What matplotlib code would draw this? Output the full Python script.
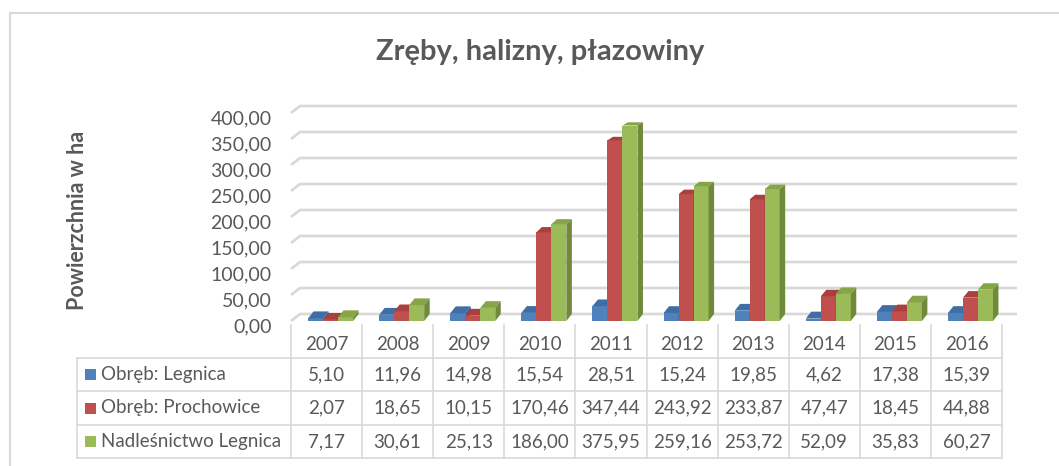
import matplotlib

matplotlib.use("Agg")

import matplotlib.pyplot as plt
from matplotlib.lines import Line2D
from matplotlib.patches import Polygon, Rectangle
from matplotlib.transforms import ScaledTranslation, blended_transform_factory

# --- data ---
YEARS = ["2007", "2008", "2009", "2010", "2011", "2012", "2013", "2014", "2015", "2016"]
SERIES_NAMES = ["Obręb: Legnica", "Obręb: Prochowice", "Nadleśnictwo Legnica"]
LEGNICA = [5.10, 11.96, 14.98, 15.54, 28.51, 15.24, 19.85, 4.62, 17.38, 15.39]
PROCHOWICE = [2.07, 18.65, 10.15, 170.46, 347.44, 243.92, 233.87, 47.47, 18.45, 44.88]
NADLESNICTWO = [7.17, 30.61, 25.13, 186.00, 375.95, 259.16, 253.72, 52.09, 35.83, 60.27]
Y_TICKS = [0, 50, 100, 150, 200, 250, 300, 350, 400]

SERIES = [LEGNICA, PROCHOWICE, NADLESNICTWO]

# front / top / side shades of each series
FRONT = ["#4f81bd", "#c0504d", "#9bbb59"]
TOP = ["#3f6ea6", "#a8403d", "#86a548"]
SIDE = ["#385d8a", "#8c3836", "#6f8a3b"]

TEXT = "#595959"
GRID = "#d9d9d9"

plt.rcParams["font.family"] = ["Lato", "DejaVu Sans"]

W, H = 1059, 466
fig = plt.figure(figsize=(W / 100, H / 100), dpi=100)


def fx(px):
    return px / W


def fy(py):
    return 1 - py / H


# plot area (pixels) and category grid
AX_L, AX_R, AX_T, AX_B = 280, 1025, 95, 330
COL_L, COL_W = 291, 71.1
BASE_PY, PX_PER_UNIT = 321, 0.52

ax = fig.add_axes([fx(AX_L), fy(AX_B), (AX_R - AX_L) / W, (AX_B - AX_T) / H])
ax.set_xlim(-0.5 + (AX_L - COL_L) / COL_W, -0.5 + (AX_R - COL_L) / COL_W)
ax.set_ylim((BASE_PY - AX_B) / PX_PER_UNIT, (BASE_PY - AX_T) / PX_PER_UNIT)
ax.patch.set_alpha(0)
for s in ax.spines.values():
    s.set_visible(False)

ux = 1 / COL_W        # one pixel in x data units
uy = 1 / PX_PER_UNIT  # one pixel in y data units

# back wall gridlines with the short slanted piece on the side wall
wall_end = -0.5 + (1017 - COL_L) / COL_W
for v in Y_TICKS:
    ax.plot([-0.5, -0.5 + 9 * ux, wall_end], [v, v + 7 * uy, v + 7 * uy],
            color=GRID, lw=2, zorder=1, solid_capstyle="butt")

# 3D-looking columns: front from ax.bar, then top and right side faces
OFFSETS = [-0.26, -0.049, 0.162]
BAR_W = 0.211
xs = list(range(len(YEARS)))
for k, values in enumerate(SERIES):
    lefts = [x + OFFSETS[k] for x in xs]
    ax.bar(lefts, values, width=BAR_W, align="edge", color=FRONT[k],
           linewidth=0, zorder=3 + k)
    for x0, h in zip(lefts, values):
        dx = 5.5 * ux
        dy = (7 - 4 * h / 400) * uy
        x1 = x0 + BAR_W
        ax.add_patch(Polygon([(x0, h), (x1, h), (x1 + dx, h + dy), (x0 + dx, h + dy)],
                             closed=True, facecolor=TOP[k], linewidth=0, zorder=3 + k))
        ax.add_patch(Polygon([(x1, 0), (x1 + dx, 7 * uy), (x1 + dx, h + dy), (x1, h)],
                             closed=True, facecolor=SIDE[k], linewidth=0, zorder=3 + k))

ax.set_xticks([])
ax.set_yticks(Y_TICKS)
ax.set_yticklabels([f"{v:.2f}".replace(".", ",") for v in Y_TICKS])
ax.tick_params(axis="y", length=0, pad=6, labelsize=14, labelcolor=TEXT)
shift = ScaledTranslation(0, -4 / 100, fig.dpi_scale_trans)
for lbl in ax.get_yticklabels():
    lbl.set_transform(lbl.get_transform() + shift)

# --- data table under the plot ---
TBL_L = 77
TBL_R = COL_L + len(YEARS) * COL_W
ROW_Y = [325, 358, 391, 425, 458]
line_kw = dict(color=GRID, lw=1.2)

for py in ROW_Y[1:]:
    fig.add_artist(Line2D([fx(TBL_L), fx(TBL_R)], [fy(py), fy(py)], **line_kw))
fig.add_artist(Line2D([fx(TBL_L), fx(TBL_L)], [fy(ROW_Y[1]), fy(ROW_Y[-1])], **line_kw))
for i in range(len(YEARS) + 1):
    px = COL_L + i * COL_W
    fig.add_artist(Line2D([fx(px), fx(px)], [fy(ROW_Y[0]), fy(ROW_Y[-1])], **line_kw))

cell = blended_transform_factory(ax.transData, fig.transFigure)
for x, year in zip(xs, YEARS):
    ax.text(x, fy((ROW_Y[0] + ROW_Y[1]) / 2 + 3), year, transform=cell, ha="center",
            va="center", fontsize=13.5, color=TEXT, clip_on=False)

for r, (name, values) in enumerate(zip(SERIES_NAMES, SERIES)):
    mid = (ROW_Y[r + 1] + ROW_Y[r + 2]) / 2
    fig.add_artist(Rectangle((fx(85), fy(mid + 5.5)), 11 / W, 11 / H,
                             facecolor=FRONT[r], edgecolor="none"))
    fig.text(fx(101), fy(mid), name, ha="left", va="center",
             fontsize=13.5, color=TEXT)
    for x, v in zip(xs, values):
        ax.text(x, fy(mid), f"{v:.2f}".replace(".", ","), transform=cell,
                ha="center", va="center", fontsize=13.5, color=TEXT, clip_on=False)

# titles
fig.text(fx(540), fy(52), "Zręby, halizny, płazowiny", ha="center", va="center",
         fontsize=21, weight="bold", color=TEXT)
fig.text(fx(77), fy(220), "Powierzchnia w ha", ha="center", va="center",
         rotation=90, fontsize=15.5, weight="bold", color=TEXT)

# chart frame
fig.add_artist(Line2D([fx(10), fx(W)], [fy(13), fy(13)], color=GRID, lw=1.5))
fig.add_artist(Line2D([fx(10), fx(10)], [fy(13), fy(H)], color=GRID, lw=1.5))

fig.savefig("out.png", dpi=100, facecolor="white")
